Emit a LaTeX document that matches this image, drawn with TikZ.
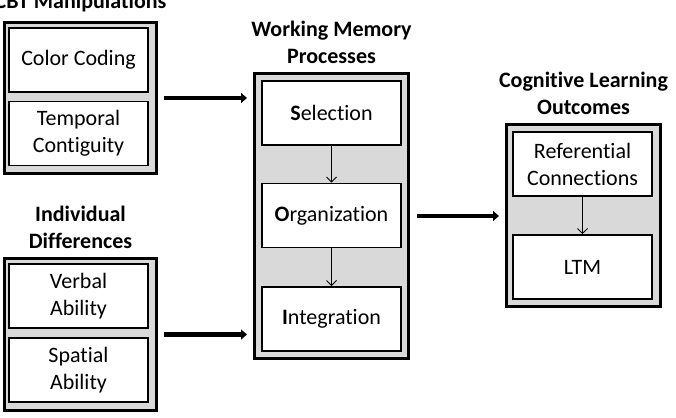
\documentclass[tikz,border=0pt]{standalone}
\usepackage{fontspec}
\setmainfont{Carlito}[Ligatures=NoCommon]
\usepackage{tikz}
\usetikzlibrary{positioning,arrows.meta}

\definecolor{boxgray}{RGB}{217,217,217}

\begin{document}
\begin{tikzpicture}[x=1pt, y=-1pt,
		font=\fontsize{22}{27}\selectfont,
		outerbox/.style={draw, line width=3pt, fill=boxgray, inner sep=0pt},
		innerbox/.style={draw, line width=1.6pt, fill=white, align=center,
			minimum width=139pt, minimum height=64pt, inner sep=0pt},
		title/.style={font=\fontsize{22}{27}\selectfont\bfseries, align=center, inner sep=0pt},
		bigarrow/.style={-{Triangle[length=6pt,width=10pt]}, line width=4.5pt,
			shorten <=6pt, shorten >=6pt},
		smallarrow/.style={-{Straight Barb[length=5pt,width=10pt]}, line width=1pt}]
		\useasboundingbox (0, 0) rectangle (676, 417);

		% 左上の箱を描画
		\node[outerbox, minimum width=152pt, minimum height=151pt] (cbt) at (80.5, 98) {};
		\node[innerbox] (color) at (78.5, 60) {Color Coding};
		\node[innerbox] (temporal) at (78.5, 133.5) {Temporal\\Contiguity};
		\node[title, above=9pt of cbt] (cbttitle) {CBT Manipulations};

		% 左下の箱を描画
		\node[outerbox, minimum width=152pt, minimum height=152pt] (indiv) at (80.5, 334.5) {};
		\node[innerbox] (verbal) at (78.5, 296) {Verbal\\Ability};
		\node[innerbox] (spatial) at (78.5, 370) {Spatial\\Ability};
		\node[title, above=8pt of indiv] (indivtitle) {Individual\\Differences};

		% 真ん中の箱を描画
		\node[outerbox, minimum width=154pt, minimum height=285pt] (wm) at (331.5, 216) {};
		\node[innerbox] (sel) at (331.5, 113) {\textbf{S}election};
		\node[innerbox] (org) at (331.5, 215.5) {\textbf{O}rganization};
		\node[innerbox] (integ) at (331.5, 319) {\textbf{I}ntegration};
		\node[title, above=8pt of wm] (wmtitle) {Working Memory\\Processes};

		% 右の箱を描画
		\node[outerbox, minimum width=154pt, minimum height=182pt] (clo) at (583.5, 215.5) {};
		\node[innerbox] (refer) at (582.5, 164) {Referential\\Connections};
		\node[innerbox] (ltm) at (582.5, 267) {LTM};
		\node[title, above=8pt of clo] (clotitle) {Cognitive Learning\\Outcomes};

		% 矢印を描画
		\draw[bigarrow] (cbt) -- (cbt -| wm.west);
		\draw[bigarrow] (indiv) -- (indiv -| wm.west);
		\draw[bigarrow, shorten <=7pt] (wm) -- (wm -| clo.west);
		\draw[smallarrow] (sel) -- (org);
		\draw[smallarrow] (org) -- (integ);
		\draw[smallarrow] (refer) -- (ltm);

	\end{tikzpicture}
\end{document}
